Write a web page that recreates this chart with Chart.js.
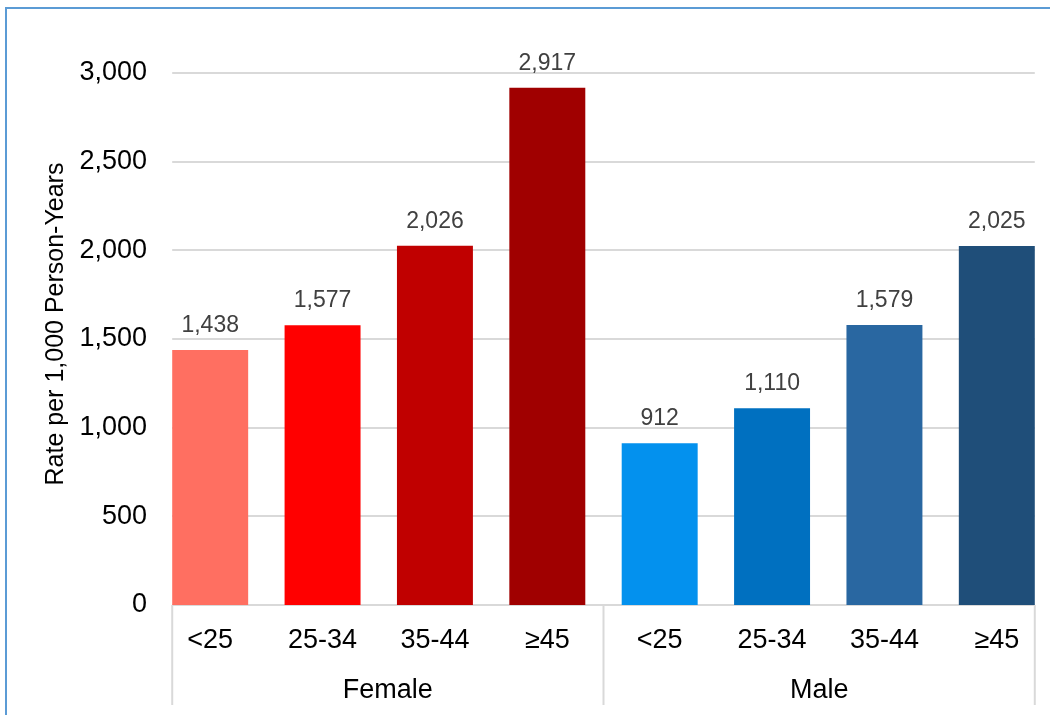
<!DOCTYPE html>
<html>
<head>
<meta charset="utf-8">
<script src="https://cdn.jsdelivr.net/npm/chart.js@4.4.1/dist/chart.umd.min.js"></script>
<style>
  html, body { margin: 0; padding: 0; background: #fff; overflow: hidden; }
  #wrap { position: relative; width: 1060px; height: 715px; }
  #frame {
    position: absolute; left: 5px; top: 7px; width: 1100px; height: 800px;
    border-left: 2px solid #5b9bd5; border-top: 2px solid #5b9bd5;
    pointer-events: none;
  }
</style>
</head>
<body>
<div id="wrap">
  <canvas id="chart"></canvas>
  <div id="frame"></div>
</div>
<script>
// data
const sexes = ['Female', 'Male'];
const ageGroups = ['<25', '25-34', '35-44', '≥45'];
const rates = [1438, 1577, 2026, 2917, 912, 1110, 1579, 2025];
const barColors = ['#ff6f61', '#ff0000', '#c00000', '#a00000', '#0391ee', '#0070c0', '#2967a1', '#1f4e79'];
const yMax = 3000;
const yStep = 500;
const yTitle = 'Rate per 1,000 Person-Years';

const labels = [];
sexes.forEach(() => ageGroups.forEach(a => labels.push(a)));

const FONT = "'Liberation Sans', Arial, sans-serif";
const gridColor = '#d9d9d9';

// gridlines, group separators, group names, value labels and the y title
const decorations = {
    id: 'decorations',
    beforeDatasetsDraw(chart) {
        const ctx = chart.ctx;
        const bars = chart.getDatasetMeta(0).data;
        const first = bars[0], last = bars[bars.length - 1];
        const xL = first.x - first.width / 2;
        const xR = last.x + last.width / 2;
        const y = chart.scales.y;
        ctx.save();
        ctx.strokeStyle = gridColor;
        ctx.lineWidth = 2;
        y.ticks.forEach(t => {
            const py = Math.round(y.getPixelForValue(t.value));
            ctx.beginPath();
            ctx.moveTo(xL, py);
            ctx.lineTo(xR, py);
            ctx.stroke();
        });

        // axis title, a bit above the plot's middle like the original
        const area = chart.chartArea;
        ctx.translate(56, (area.top + area.bottom) / 2 - 15);
        ctx.rotate(-Math.PI / 2);
        ctx.fillStyle = '#000';
        ctx.font = '25px ' + FONT;
        ctx.textAlign = 'center';
        ctx.textBaseline = 'middle';
        ctx.fillText(yTitle, 0, 0);
        ctx.restore();
    },
    afterDatasetsDraw(chart) {
        const ctx = chart.ctx;
        const bars = chart.getDatasetMeta(0).data;
        const bottom = chart.chartArea.bottom;
        ctx.save();

        // value labels
        ctx.fillStyle = '#404040';
        ctx.font = '23px ' + FONT;
        ctx.textAlign = 'center';
        ctx.textBaseline = 'alphabetic';
        bars.forEach((b, i) => {
            ctx.fillText(rates[i].toLocaleString('en-US'), b.x, b.y - 18);
        });

        // group separators
        const n = ageGroups.length;
        const edges = [];
        sexes.forEach((s, g) => {
            const a = bars[g * n], z = bars[g * n + n - 1];
            edges.push([a.x - a.width / 2, z.x + z.width / 2]);
        });
        const seps = [edges[0][0]];
        for (let g = 1; g < edges.length; g++) seps.push((edges[g - 1][1] + edges[g][0]) / 2);
        seps.push(edges[edges.length - 1][1]);

        ctx.strokeStyle = gridColor;
        ctx.lineWidth = 2;
        seps.forEach(x => {
            ctx.beginPath();
            ctx.moveTo(x, bottom);
            ctx.lineTo(x, bottom + 100);
            ctx.stroke();
        });

        // group names
        ctx.fillStyle = '#000';
        ctx.font = '27px ' + FONT;
        ctx.textBaseline = 'middle';
        sexes.forEach((s, g) => {
            ctx.fillText(s, (seps[g] + seps[g + 1]) / 2, bottom + 86);
        });
        ctx.restore();
    }
};

const chart = new Chart(document.getElementById('chart'), {
    type: 'bar',
    data: {
        labels: labels,
        datasets: [{
            data: rates,
            backgroundColor: barColors,
            categoryPercentage: 1.0,
            barPercentage: 0.676,
        }],
    },
    options: {
        responsive: true,
        maintainAspectRatio: false,
        animation: false,
        layout: { padding: { left: 0, top: 73, right: 7, bottom: 0 } },
        plugins: {
            legend: { display: false },
            tooltip: { enabled: false },
        },
        scales: {
            x: {
                offset: true,
                grid: { display: false },
                border: { display: false },
                ticks: {
                    color: '#000',
                    font: { family: FONT, size: 27 },
                    padding: 11,
                    maxRotation: 0,
                    autoSkip: false,
                },
                afterFit(scale) { scale.height = 110; },
            },
            y: {
                min: 0,
                max: yMax,
                grid: { display: false, drawTicks: false },
                border: { display: false },
                ticks: {
                    stepSize: yStep,
                    color: '#000',
                    font: { family: FONT, size: 27 },
                    padding: 7,
                    callback: v => v.toLocaleString('en-US'),
                },
                afterFit(scale) { scale.width = 154; },
            },
        },
    },
    plugins: [decorations],
});
</script>
</body>
</html>
